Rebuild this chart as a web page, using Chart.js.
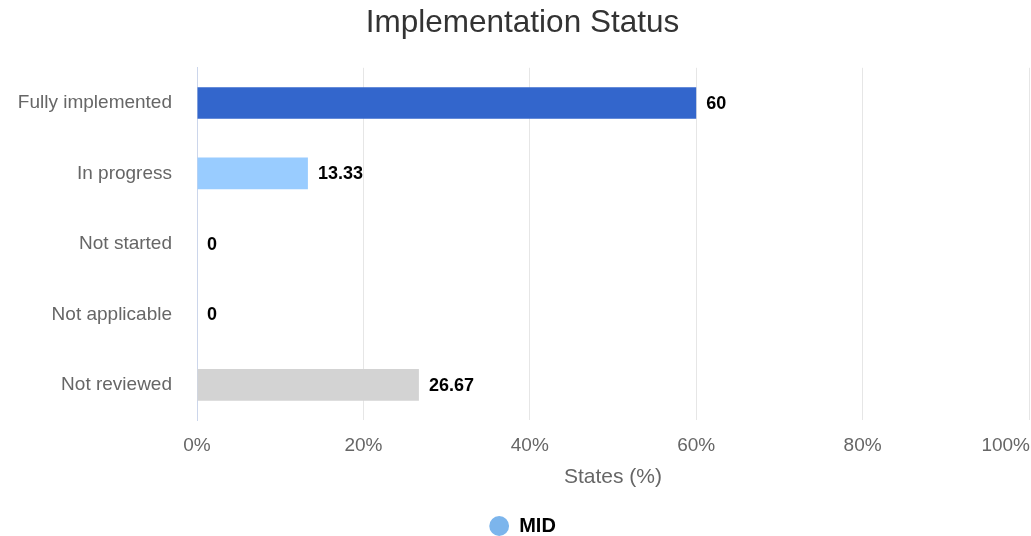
<!DOCTYPE html>
<html><head><meta charset="utf-8">
<script src="https://cdn.jsdelivr.net/npm/chart.js@4.4.0/dist/chart.umd.min.js"></script>
<style>html,body{margin:0;padding:0;background:#fff}#wrap{width:1031px;height:536px}</style>
</head><body><div id="wrap"><canvas id="c" width="1031" height="536"></canvas></div>
<script>
const categories = ['Fully implemented', 'In progress', 'Not started', 'Not applicable', 'Not reviewed'];
const values = [60, 13.33, 0, 0, 26.67];
const barColors = ['#3366cc', '#99ccff', '#cccccc', '#eeeeee', '#d3d3d3'];
const xTickValues = [0, 20, 40, 60, 80, 100];
const seriesName = 'MID';
const legendColor = '#7cb5ec';
const FONT = '"Liberation Sans", Arial, sans-serif';

const valueLabels = {
  id: 'valueLabels',
  afterDatasetsDraw(chart) {
    const ctx = chart.ctx;
    const meta = chart.getDatasetMeta(0);
    ctx.save();
    ctx.font = 'bold 18px ' + FONT;
    ctx.fillStyle = '#000';
    ctx.textBaseline = 'middle';
    ctx.textAlign = 'left';
    meta.data.forEach((bar, i) => {
      ctx.fillText(String(values[i]), bar.x + 10, bar.y + 1);
    });
    ctx.restore();
  }
};
const lastTickAlign = {
  id: 'lastTickAlign',
  afterUpdate(chart) {
    const s = chart.scales.x;
    const items = s.getLabelItems(chart.chartArea);
    const last = items[items.length - 1];
    if (last) {
      last.options.textAlign = 'right';
      last.options.translation[0] = chart.width - 1;
    }
  }
};

new Chart(document.getElementById('c'), {
  type: 'bar',
  data: {
    labels: categories,
    datasets: [{
      label: seriesName,
      data: values,
      backgroundColor: barColors,
      borderWidth: 0,
      barPercentage: 0.9,
      categoryPercentage: 0.5
    }]
  },
  options: {
    indexAxis: 'y',
    responsive: false,
    animation: false,
    devicePixelRatio: 1,
    layout: { padding: { left: 16, right: 2, top: 0, bottom: -10 } },
    plugins: {
      title: {
        display: true,
        text: 'Implementation Status',
        color: '#333333',
        font: { family: FONT, size: 31.5, weight: 'normal' },
        padding: { top: 4, bottom: 26 }
      },
      legend: {
        position: 'bottom',
        labels: {
          usePointStyle: true,
          pointStyle: 'circle',
          boxHeight: 14,
          boxWidth: 20,
          color: '#333333',
          font: { family: FONT, size: 20, weight: 'bold' },
          padding: 0,
          generateLabels(chart) {
            return [{
              text: seriesName,
              fillStyle: legendColor,
              strokeStyle: legendColor,
              lineWidth: 0,
              pointStyle: 'circle',
              hidden: false,
              datasetIndex: 0
            }];
          }
        },
        onClick: null
      },
      tooltip: { enabled: false }
    },
    scales: {
      x: {
        min: 0,
        max: 100,
        afterBuildTicks(scale) { scale.ticks = xTickValues.map(v => ({ value: v })); },
        afterFit(scale) { scale.paddingRight = 0; scale.paddingLeft = 0; scale.height = 96; },
        grid: { color: '#e6e6e6', lineWidth: 1, drawTicks: false },
        border: { display: false },
        ticks: {
          color: '#666666',
          font: { family: FONT, size: 19 },
          padding: 14,
          maxRotation: 0,
          callback: v => v + '%'
        },
        title: {
          display: true,
          text: 'States (%)',
          color: '#666666',
          font: { family: FONT, size: 21 },
          padding: { top: 0, bottom: 26 }
        }
      },
      y: {
        afterFit(scale) { scale.width = 181; },
        grid: { display: false, drawTicks: false },
        border: { display: true, color: '#ccd6eb', width: 1 },
        ticks: {
          color: '#666666',
          font: { family: FONT, size: 19 },
          padding: 25
        }
      }
    }
  },
  plugins: [valueLabels, lastTickAlign]
});
</script>
</body></html>
